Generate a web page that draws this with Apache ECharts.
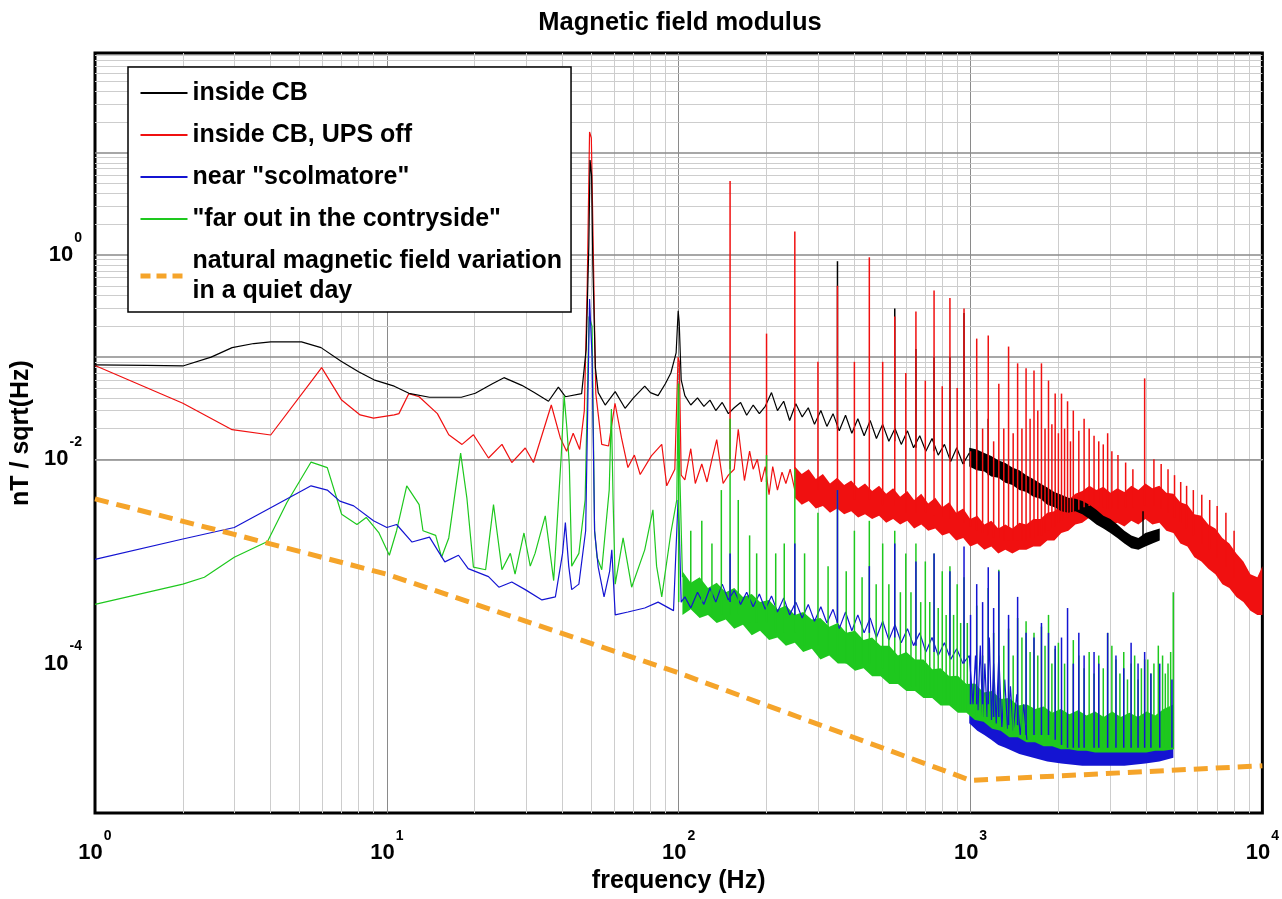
<!DOCTYPE html>
<html>
<head>
<meta charset="utf-8">
<title>Magnetic field modulus</title>
<script src="https://cdn.jsdelivr.net/npm/echarts@6.0.0/dist/echarts.min.js"></script>
<style>
  html, body { margin: 0; padding: 0; background: #fff; }
  #chart { width: 1282px; height: 899px; }
</style>
</head>
<body>
<div id="chart"></div>
<script>
// axis / grid values
const xDecades = [1, 10, 100, 1000, 10000];
const yDecades = [1e-6, 1e-5, 1e-4, 1e-3, 1e-2, 1e-1, 1, 10];
const minorSteps = [2, 3, 4, 5, 6, 7, 8, 9];
const yMin = 3.44e-6, yMax = 95;

// inside CB : [freq, nT/sqrt(Hz)]
const blackLine = [
  [1,0.084],[1.5,0.083],[2,0.082],[2.5,0.1],[2.95,0.124],[3.5,0.136],[4,0.141],[5.1,0.141],[5.95,0.124],
  [6.97,0.091],[8,0.072],[9.03,0.06],[10.6,0.052],[11.9,0.0443],[14,0.0405],[18,0.0405],[20.1,0.0443],
  [23,0.055],[25.2,0.063],[29,0.053],[32,0.045],[35.8,0.037],[38.7,0.0508],[40.9,0.041],[46.5,0.044],
  [48.2,0.12],[49.2,1.2],[49.7,8.5],[50.3,6],[50.8,0.8],[51.8,0.08],[53,0.045],[56,0.034],[60.6,0.046],
  [65.5,0.0316],[70,0.04],[76.5,0.052],[80,0.045],[85,0.042],[90,0.055],[94,0.07],[98,0.11],[99.6,0.285],
  [100.4,0.22],[102,0.06],[105,0.042],[110,0.034],[116,0.04],[122,0.033],[128,0.038],[134,0.03],[141,0.036],
  [148,0.028],[155,0.032],[163,0.036],[171,0.027],[180,0.034],[189,0.028],[198,0.033],[208,0.045],[218,0.03],
  [229,0.037],[240,0.024],[252,0.035],[265,0.026],[278,0.032],[292,0.022],[307,0.03],[322,0.021],[338,0.028],
  [355,0.019],[373,0.027],[392,0.018],[411,0.025],[432,0.017],[453,0.024],[476,0.016],[500,0.022],[525,0.015],
  [551,0.02],[579,0.014],[608,0.019],[638,0.013],[670,0.017],[703,0.012],[738,0.016],[775,0.011],[814,0.014],
  [855,0.0095],[897,0.013],[942,0.009],[990,0.0115]
];
// dense part : [freq, low, high]
const blackBand = [
  [990,0.0085,0.013],[1050,0.0078,0.0125],[1115,0.0076,0.0115],[1178,0.0068,0.0108],[1245,0.0066,0.0098],
  [1316,0.0059,0.0092],[1391,0.0056,0.0083],[1470,0.005,0.0078],[1553,0.0048,0.007],[1641,0.0043,0.0064],
  [1735,0.0041,0.0058],[1833,0.0036,0.0053],[1937,0.0034,0.0048],[2047,0.0031,0.0045],[2164,0.003,0.0042],
  [2287,0.0031,0.0041],[2416,0.0029,0.0039],[2554,0.0026,0.0036],[2699,0.0023,0.0032],[2852,0.0021,0.0028],
  [3014,0.0019,0.0026],[3185,0.0017,0.0023],[3366,0.0015,0.002],[3557,0.00135,0.0018],[3759,0.0013,0.0017],
  [3973,0.0014,0.0019],[4198,0.0015,0.002],[4450,0.0016,0.0021]
];
const blackSpikes = [
  [350,0.02,0.87],[550,0.015,0.3],[650,0.013,0.12],[750,0.012,0.1],[850,0.01,0.1],[950,0.009,0.27],
  [1050,0.008,0.03],[1150,0.007,0.025],[3900,0.0015,0.0031]
];

// inside CB, UPS off
const redLine = [
  [1,0.083],[2,0.0354],[2.95,0.0195],[4,0.0173],[5.98,0.079],[7,0.038],[8.1,0.0272],[9,0.0253],[10.6,0.0272],
  [11,0.028],[11.9,0.044],[12.9,0.041],[14.9,0.028],[16.3,0.0174],[18.1,0.014],[19.8,0.0174],[22.3,0.0103],
  [24.8,0.014],[26.8,0.0093],[29.8,0.0129],[31.8,0.0093],[36.6,0.034],[39.3,0.0162],[41.3,0.012],[43.5,0.018],
  [45.8,0.0125],[47.5,0.03],[48.6,0.5],[49.5,16],[50.2,14],[50.8,2],[51.5,0.2],[52,0.044],[54.5,0.014],
  [57.5,0.0135],[60.5,0.0354],[63.7,0.0162],[67,0.0083],[70.5,0.011],[73.8,0.0071],[80.6,0.0108],[87.5,0.014],
  [91,0.0055],[97,0.008],[99.5,0.1],[100.5,0.09],[102,0.007],[105,0.0063],[110,0.0127],[114,0.0058],[120,0.009],
  [125,0.006],[130,0.01],[135,0.0156],[142,0.0058],[148,0.007],[155,0.008],[160,0.0197],[168,0.0062],[175,0.012],
  [180,0.008],[186,0.01],[192,0.006],[198,0.0085],[204,0.0045],[210,0.0085],[218,0.005],[226,0.0075],
  [233,0.0058],[241,0.008],[250,0.005]
];
const redBand = [
  [250,0.0042,0.0085],[264,0.0036,0.0072],[279,0.0039,0.008],[295,0.0033,0.0064],[312,0.0035,0.0072],
  [330,0.003,0.0058],[349,0.0033,0.0066],[369,0.0029,0.0056],[390,0.0031,0.0062],[412,0.0027,0.0052],
  [435,0.0029,0.0058],[460,0.0026,0.0049],[486,0.0028,0.0055],[514,0.0024,0.0046],[543,0.0026,0.0052],
  [574,0.0023,0.0043],[607,0.0025,0.0049],[641,0.0021,0.004],[678,0.0023,0.0046],[716,0.002,0.0037],
  [757,0.0021,0.0042],[800,0.0018,0.0034],[845,0.0019,0.0038],[893,0.0016,0.003],[944,0.0017,0.0033],
  [998,0.0014,0.0026],[1055,0.0015,0.0028],[1115,0.0013,0.0023],[1178,0.0014,0.0025],[1245,0.0012,0.0021],
  [1316,0.0013,0.0023],[1391,0.0012,0.0021],[1470,0.0013,0.0024],[1553,0.0013,0.0023],[1641,0.0014,0.0026],
  [1735,0.0014,0.0026],[1833,0.0016,0.003],[1937,0.0016,0.0031],[2047,0.0019,0.0036],[2164,0.002,0.004],
  [2287,0.0023,0.0046],[2416,0.0024,0.0049],[2554,0.0027,0.0055],[2699,0.0025,0.005],[2852,0.0026,0.0054],
  [3014,0.0022,0.0047],[3185,0.0024,0.0052],[3366,0.0022,0.0048],[3557,0.0025,0.0055],[3759,0.0023,0.005],
  [3973,0.0026,0.0058],[4198,0.0023,0.0052],[4437,0.0024,0.0055],[4689,0.002,0.0047],[4955,0.0019,0.0046],
  [5236,0.0015,0.0038],[5534,0.0014,0.0036],[5848,0.0011,0.0029],[6180,0.001,0.0028],[6531,0.00085,0.0023],
  [6902,0.00075,0.0021],[7294,0.0006,0.0017],[7708,0.00055,0.0015],[8146,0.00045,0.0012],[8609,0.0004,0.001],
  [9098,0.00033,0.00075],[9614,0.0003,0.0007],[10000,0.0003,0.0009]
];
const redSpikes = [
  [150,0.008,5.3],[200,0.006,0.17],[250,0.006,1.7],[300,0.005,0.09],[350,0.005,0.5],[400,0.004,0.09],
  [450,0.004,0.95],[500,0.0035,0.09],[550,0.0035,0.25],[600,0.003,0.07],[650,0.003,0.28],[700,0.003,0.059],
  [750,0.0028,0.45],[800,0.0027,0.052],[850,0.0026,0.38],[900,0.0025,0.05],[950,0.0024,0.3],[1000,0.0022,0.012],
  [1050,0.002,0.152],[1100,0.0019,0.02],[1150,0.0018,0.163],[1200,0.0017,0.015],[1250,0.0017,0.055],
  [1300,0.0016,0.02],[1350,0.0016,0.127],[1400,0.0016,0.018],[1450,0.0016,0.087],[1500,0.0016,0.02],
  [1550,0.0016,0.078],[1600,0.0017,0.025],[1650,0.0017,0.074],[1700,0.0018,0.03],[1750,0.0018,0.087],
  [1800,0.0019,0.02],[1850,0.002,0.059],[1900,0.0021,0.022],[1950,0.0022,0.044],[2000,0.0024,0.018],
  [2050,0.0025,0.044],[2100,0.0026,0.02],[2150,0.0027,0.037],[2200,0.0029,0.015],[2250,0.003,0.03],
  [2350,0.0032,0.019],[2450,0.0034,0.025],[2550,0.0035,0.02],[2650,0.0035,0.017],[2750,0.0034,0.015],
  [2850,0.0034,0.014],[2950,0.0033,0.018],[3050,0.0033,0.012],[3200,0.0033,0.011],[3400,0.0034,0.0093],
  [3600,0.0034,0.008],[3950,0.0035,0.062],[4250,0.0035,0.01],[4500,0.0033,0.009],[4750,0.003,0.008],
  [5000,0.0027,0.007],[5250,0.0024,0.006],[5500,0.0021,0.0055],[5800,0.0018,0.005],[6200,0.0015,0.0045],
  [6600,0.0013,0.004],[7000,0.0011,0.0035],[7500,0.0009,0.003],[8000,0.0007,0.002]
];

// near "scolmatore"
const blueLine = [
  [1,0.00105],[2,0.00166],[3,0.00215],[4,0.00336],[5.5,0.0055],[6.25,0.005],[6.9,0.0039],[7.7,0.0035],[9,0.0025],
  [10,0.00215],[10.8,0.0023],[12.2,0.00155],[14,0.00173],[15.8,0.00099],[17.6,0.00115],[19,0.00085],[22.3,0.00071],
  [24.2,0.00056],[26.8,0.00063],[29.8,0.00053],[34,0.00042],[37.8,0.00045],[40,0.0012],[40.9,0.0024],[42,0.0009],
  [43,0.00053],[45.5,0.0006],[48,0.002],[49.5,0.37],[50.5,0.1],[51.5,0.002],[53,0.00088],[55.5,0.00045],[58,0.0008],
  [59,0.0013],[60.6,0.0003],[67,0.00032],[76.5,0.00035],[85,0.0004],[96,0.00033],[99.5,0.004],[100.5,0.002],
  [102,0.0004],[105,0.00045],[110,0.00035],[116,0.0005],[122,0.00038],[128,0.00055],[134,0.0004],[141,0.0006],
  [148,0.00042],[155,0.00052],[163,0.00038],[171,0.0005],[180,0.00036],[189,0.00048],[198,0.00034],[208,0.00046],
  [218,0.00032],[229,0.00044],[240,0.0003],[252,0.0004],[265,0.00028],[278,0.00038],[292,0.00026],[307,0.00036],
  [322,0.00025],[338,0.00034],[355,0.00022],[373,0.00032],[392,0.00021],[411,0.0003],[432,0.0002],[453,0.00028],
  [476,0.00018],[500,0.00026],[525,0.00017],[551,0.00024],[579,0.00016],[608,0.00022],[638,0.00015],[670,0.0002],
  [703,0.00013],[738,0.00018],[775,0.00012],[814,0.00016],[855,0.00011],[897,0.00014],[942,0.0001],[990,0.00012],
  [1020,4e-5],[1040,0.00012],[1060,3.5e-5],[1080,0.00015],[1100,3e-5],[1120,0.0001],[1140,3e-5],[1160,0.00018],
  [1180,2.8e-5],[1200,0.0001],[1225,2.6e-5],[1250,0.00012],[1280,2.4e-5],[1310,7e-5],[1340,2.3e-5],[1370,6e-5],
  [1400,2.2e-5],[1440,5e-5],[1480,2e-5],[1520,4e-5],[1560,1.8e-5]
];
const blueBand = [
  [990,2.6e-5,5e-5],[1055,2.2e-5,4.5e-5],[1115,2e-5,4e-5],[1178,1.8e-5,3.5e-5],[1245,1.6e-5,3e-5],
  [1316,1.5e-5,2.8e-5],[1470,1.3e-5,2.4e-5],[1641,1.2e-5,2.2e-5],[1833,1.1e-5,2e-5],[2047,1.05e-5,2e-5],
  [2416,1.0e-5,1.9e-5],[2852,1.0e-5,1.9e-5],[3366,1.0e-5,1.9e-5],[3973,1.05e-5,1.9e-5],[4437,1.1e-5,2e-5],
  [4955,1.2e-5,2.2e-5]
];
const blueSpikes = [
  [150,0.0004,0.0012],[250,0.0003,0.0015],[350,0.00025,0.005],[450,0.0002,0.0009],[550,0.00018,0.0015],
  [650,0.00015,0.001],[750,0.00013,0.0012],[850,0.00012,0.0008],[950,0.0001,0.0014],[1000,4e-5,0.0003],
  [1050,4e-5,0.0006],[1100,4e-5,0.0004],[1150,4e-5,0.00088],[1200,3e-5,0.00035],[1250,3e-5,0.0008],
  [1350,2.5e-5,0.0003],[1450,2.5e-5,0.00045],[1550,2e-5,0.0002],[1650,2e-5,0.00018],[1750,2e-5,0.00025],
  [1850,2e-5,0.0002],[1950,1.8e-5,0.00015],[2050,1.6e-5,0.00018],[2150,1.5e-5,0.00035],[2250,1.5e-5,0.0001],
  [2350,1.5e-5,0.0002],[2450,1.5e-5,0.00012],[2650,1.5e-5,0.00013],[2750,1.5e-5,0.0001],[2950,1.5e-5,0.0002],
  [3150,1.5e-5,0.00012],[3350,1.5e-5,9e-5],[3550,1.5e-5,0.00016],[3750,1.5e-5,0.0001],[3950,1.5e-5,0.00013],
  [4150,1.5e-5,8e-5],[4450,1.5e-5,0.0001],[4900,1.5e-5,7e-5]
];

// "far out in the contryside"
const greenLine = [
  [1,0.00038],[2,0.0006],[2.37,0.0007],[3,0.0011],[3.9,0.00157],[4.55,0.0038],[5.5,0.0094],[6.25,0.0083],[7,0.0029],
  [7.9,0.0023],[8.5,0.0027],[9.4,0.0019],[10.2,0.00115],[10.8,0.002],[11.7,0.0055],[12.9,0.0036],[13.3,0.002],
  [14.7,0.0018],[15.4,0.0011],[16.3,0.0017],[17.9,0.0115],[18.8,0.0042],[19.8,0.00088],[21.8,0.00083],[23.2,0.0036],
  [24.8,0.00083],[26.5,0.0012],[27.5,0.00075],[29.5,0.0019],[31,0.0009],[32.2,0.0012],[34.9,0.0028],[37.3,0.00065],
  [39.6,0.011],[40.5,0.042],[41.4,0.02],[42.2,0.0088],[43,0.0009],[45.5,0.0012],[47.8,0.004],[49.3,0.25],[50.5,0.2],
  [51.5,0.002],[52.5,0.0011],[54.5,0.00083],[57.8,0.005],[58.8,0.031],[59.6,0.004],[60.6,0.0006],[64.5,0.0017],
  [69,0.00056],[76.5,0.0013],[81.6,0.0032],[84,0.0009],[87.5,0.00045],[94,0.0019],[98.5,0.004],[99.7,0.055],
  [100.6,0.01],[103,0.0007]
];
const greenBand = [
  [103,0.0003,0.0008],[110,0.00034,0.00062],[118,0.00028,0.0007],[126,0.0003,0.00055],[135,0.00025,0.00062],
  [145,0.00027,0.0005],[155,0.00022,0.00055],[166,0.00024,0.00045],[178,0.00019,0.00048],[190,0.00021,0.0004],
  [204,0.00017,0.00042],[218,0.00018,0.00034],[233,0.00015,0.00037],[250,0.00016,0.0003],[267,0.00013,0.00032],
  [286,0.00014,0.00027],[306,0.00011,0.00028],[328,0.00012,0.00023],[351,0.0001,0.00025],[375,0.0001,0.0002],
  [402,8.5e-5,0.00021],[430,9e-5,0.00017],[460,7.5e-5,0.00018],[492,7.5e-5,0.00015],[527,6.3e-5,0.00015],
  [564,6.3e-5,0.00012],[603,5.4e-5,0.00013],[645,5.4e-5,0.00011],[690,4.6e-5,0.00011],[739,4.6e-5,8.8e-5],
  [790,3.9e-5,9e-5],[846,3.9e-5,7.5e-5],[905,3.3e-5,7.6e-5],[968,3.3e-5,6.3e-5],[1036,2.8e-5,6.4e-5],
  [1108,2.7e-5,5.2e-5],[1186,2.3e-5,5.4e-5],[1269,2.2e-5,4.5e-5],[1358,1.9e-5,4.6e-5],[1453,1.9e-5,3.9e-5],
  [1555,1.7e-5,4e-5],[1664,1.7e-5,3.6e-5],[1780,1.55e-5,3.8e-5],[1905,1.55e-5,3.3e-5],[2038,1.45e-5,3.6e-5],
  [2181,1.45e-5,3.2e-5],[2334,1.4e-5,3.5e-5],[2497,1.4e-5,3.1e-5],[2672,1.35e-5,3.4e-5],[2859,1.35e-5,3e-5],
  [3059,1.35e-5,3.4e-5],[3273,1.35e-5,3e-5],[3502,1.35e-5,3.3e-5],[3747,1.35e-5,3e-5],[4010,1.35e-5,3.4e-5],
  [4290,1.4e-5,3.1e-5],[4590,1.4e-5,3.6e-5],[4980,1.45e-5,4e-5]
];
const greenSpikes = [
  [100,0.0004,0.055],[110,0.0004,0.002],[120,0.0004,0.0025],[130,0.0003,0.0015],[140,0.0003,0.005],
  [150,0.0003,0.025],[160,0.0003,0.004],[175,0.00025,0.0018],[185,0.00025,0.0012],[200,0.00025,0.011],
  [215,0.0002,0.0012],[230,0.0002,0.0015],[250,0.0002,0.008],[270,0.00015,0.0012],[300,0.00015,0.003],
  [325,0.00013,0.0009],[350,0.00012,0.005],[375,0.0001,0.0008],[400,0.0001,0.002],[425,0.0001,0.0007],
  [450,0.0001,0.0025],[475,8e-5,0.0006],[500,9e-5,0.0015],[525,7e-5,0.0006],[550,8e-5,0.002],[575,7e-5,0.0005],
  [600,7e-5,0.0012],[625,6e-5,0.0005],[650,6e-5,0.0015],[675,5e-5,0.0004],[700,5e-5,0.001],[725,5e-5,0.0004],
  [750,5e-5,0.0012],[775,4.5e-5,0.00035],[800,4.5e-5,0.0008],[825,4e-5,0.0003],[850,4e-5,0.0009],
  [875,4e-5,0.0003],[900,4e-5,0.0006],[925,3.5e-5,0.00025],[950,3.5e-5,0.0007],[975,3.5e-5,0.00025],
  [1050,3e-5,0.00037],[1100,3e-5,0.00012],[1150,3e-5,0.00055],[1200,2.5e-5,0.0002],[1250,3e-5,0.00083],
  [1300,2.2e-5,0.00015],[1350,2e-5,0.00022],[1400,2e-5,0.00012],[1450,2.5e-5,0.00028],[1500,2e-5,0.00018],
  [1550,2.5e-5,0.00026],[1600,2e-5,0.00013],[1650,2e-5,0.0002],[1700,1.8e-5,0.00012],[1750,2.5e-5,0.00023],
  [1800,1.8e-5,0.00015],[1850,2.5e-5,0.0003],[1900,1.8e-5,0.0001],[1950,1.8e-5,0.00014],[2000,2e-5,0.00016],
  [2100,1.6e-5,0.0001],[2250,2e-5,0.00017],[2350,1.6e-5,0.00012],[2450,1.6e-5,9e-5],[2550,1.6e-5,0.00013],
  [2650,1.5e-5,8e-5],[2750,1.5e-5,0.00012],[2850,1.5e-5,9e-5],[2950,2e-5,0.0002],[3050,2e-5,0.00015],
  [3150,1.5e-5,0.00011],[3250,1.5e-5,8e-5],[3350,1.5e-5,0.00013],[3450,1.5e-5,7e-5],[3550,1.5e-5,0.0001],
  [3650,1.5e-5,0.00012],[3750,1.5e-5,7e-5],[3850,1.5e-5,9e-5],[3950,2e-5,0.00011],[4050,1.5e-5,0.00011],
  [4150,1.5e-5,8e-5],[4250,1.5e-5,0.0001],[4400,2e-5,0.00015],[4550,1.5e-5,0.00012],[4650,1.5e-5,8e-5],
  [4750,1.5e-5,0.0001],[4850,1.5e-5,0.00013],[4950,2e-5,0.0005]
];

// natural magnetic field variation in a quiet day
const naturalField = [[1,0.0041],[3,0.00184],[10,0.00075],[100,8.1e-5],[1000,7.2e-6],[10000,1.0e-5]];

const FONT = 'Liberation Sans, Arial, Helvetica, sans-serif';
const C_BLACK = '#000000', C_RED = '#f01010', C_BLUE = '#1414d2', C_GREEN = '#1ec81e', C_ORANGE = '#f5a42a';

// grid lines: decades darker, 2..9 lighter
const gridLines = [];
xDecades.forEach(d => {
  if (d > 1 && d < 10000) gridLines.push({ xAxis: d, lineStyle: { color: '#8a8a8a' } });
  minorSteps.forEach(m => { if (d * m < 10000) gridLines.push({ xAxis: d * m }); });
});
yDecades.forEach(d => {
  if (d > yMin && d < yMax) gridLines.push({ yAxis: d, lineStyle: { color: '#8a8a8a', width: 1.5 } });
  minorSteps.forEach(m => { const v = d * m; if (v > yMin && v < yMax) gridLines.push({ yAxis: v }); });
});

function powLabel(v, evenOnly) {
  const l = Math.log10(v), e = Math.round(l);
  if (Math.abs(l - e) > 1e-3) return '';
  if (evenOnly && e % 2 !== 0) return '';
  return '{b|10}{e|' + e + '}';
}
const labelRich = {
  b: { fontSize: 22, fontWeight: 'bold', fontFamily: FONT, color: '#000', verticalAlign: 'middle' },
  e: { fontSize: 14, fontWeight: 'bold', fontFamily: FONT, color: '#000', verticalAlign: 'top', padding: [0, 0, 34, 1] }
};

function bandSeries(id, data, color, z) {
  return {
    type: 'custom', name: id, data: data, z: z, silent: true, clip: true,
    encode: { x: 0, y: [1, 2] },
    renderItem: function (params, api) {
      if (params.dataIndex !== 0) return null;
      const top = data.map(d => api.coord([d[0], d[2]]));
      const bot = data.map(d => api.coord([d[0], d[1]])).reverse();
      return { type: 'polygon', shape: { points: top.concat(bot) }, style: { fill: color } };
    }
  };
}
function spikeSeries(id, data, color, z) {
  return {
    type: 'custom', name: id, data: data, z: z, silent: true, clip: true,
    encode: { x: 0, y: [1, 2] },
    renderItem: function (params, api) {
      const p1 = api.coord([api.value(0), api.value(1)]);
      const p2 = api.coord([api.value(0), api.value(2)]);
      return { type: 'line', shape: { x1: p1[0], y1: p1[1], x2: p2[0], y2: p2[1] },
               style: { stroke: color, lineWidth: 1.5 } };
    }
  };
}
function traceSeries(name, data, color, z) {
  return { type: 'line', name: name, data: data, z: z, symbol: 'none', silent: true,
           lineStyle: { color: color, width: 1.2 }, itemStyle: { color: color } };
}

const NAMES = ['inside CB', 'inside CB, UPS off', 'near "scolmatore"', '"far out in the contryside"',
               'natural magnetic field variation\nin a quiet day'];

const chart = echarts.init(document.getElementById('chart'));
chart.setOption({
  animation: false,
  backgroundColor: '#fff',
  graphic: [{
    type: 'text', x: 680, y: 23,
    style: { text: 'Magnetic field modulus', fontSize: 25.5, fontWeight: 'bold', fontFamily: FONT,
             fill: '#000', textAlign: 'center', textVerticalAlign: 'middle' }
  }],
  grid: { left: 95, right: 17, top: 53, bottom: 82, show: true, borderColor: '#000', borderWidth: 3, backgroundColor: '#fff' },
  legend: {
    data: [NAMES[0], NAMES[1], NAMES[2], NAMES[3],
           { name: NAMES[4], lineStyle: { width: 5, type: [10, 6], color: C_ORANGE } }],
    orient: 'vertical', left: 128, top: 67, padding: [11, 9, 6, 10], itemGap: 12,
    itemWidth: 47, itemHeight: 14, selectedMode: false, z: 20,
    itemStyle: { opacity: 0 },
    backgroundColor: '#fff', borderColor: '#000', borderWidth: 1.5,
    textStyle: { fontSize: 25, fontWeight: 'bold', fontFamily: FONT, color: '#000', lineHeight: 30 }
  },
  xAxis: {
    type: 'log', logBase: 10, min: 1, max: 10000,
    name: 'frequency (Hz)', nameLocation: 'middle', nameGap: 55,
    nameTextStyle: { fontSize: 25, fontWeight: 'bold', fontFamily: FONT, color: '#000' },
    axisLine: { show: false }, axisTick: { show: false }, splitLine: { show: false },
    axisLabel: { margin: 16, formatter: v => powLabel(v, false), rich: labelRich }
  },
  yAxis: {
    type: 'log', logBase: 10, min: yMin, max: yMax,
    name: 'nT / sqrt(Hz)', nameLocation: 'middle', nameGap: 50,
    nameTextStyle: { fontSize: 25, fontWeight: 'bold', fontFamily: FONT, color: '#000' },
    axisLine: { show: false }, axisTick: { show: false }, splitLine: { show: false },
    axisLabel: { margin: 13, formatter: v => powLabel(v, true), rich: labelRich, showMinLabel: false, showMaxLabel: false }
  },
  series: [
    {
      type: 'line', name: 'grid', data: [[1, 1]], symbol: 'none', silent: true, z: 1,
      lineStyle: { opacity: 0 },
      markLine: { silent: true, z: 1, symbol: ['none', 'none'], label: { show: false }, animation: false,
                  lineStyle: { color: '#cdcdcd', width: 1, type: 'solid' }, data: gridLines }
    },
    traceSeries(NAMES[1], redLine, C_RED, 2),
    bandSeries('redBand', redBand, C_RED, 2),
    traceSeries(NAMES[0], blackLine, C_BLACK, 3),
    bandSeries('blackBand', blackBand, C_BLACK, 3),
    spikeSeries('blackSpikes', blackSpikes, C_BLACK, 4),
    spikeSeries('redSpikes', redSpikes, C_RED, 4),
    bandSeries('blueBand', blueBand, C_BLUE, 5),
    traceSeries(NAMES[3], greenLine, C_GREEN, 5),
    bandSeries('greenBand', greenBand, C_GREEN, 5),
    traceSeries(NAMES[2], blueLine, C_BLUE, 6),
    spikeSeries('greenSpikes', greenSpikes, C_GREEN, 7),
    spikeSeries('blueSpikes', blueSpikes, C_BLUE, 7),
    {
      type: 'line', name: NAMES[4], data: naturalField, z: 8, symbol: 'none', silent: true,
      lineStyle: { color: C_ORANGE, width: 5, type: [14, 8] }, itemStyle: { color: C_ORANGE }
    }
  ]
});
</script>
</body>
</html>
